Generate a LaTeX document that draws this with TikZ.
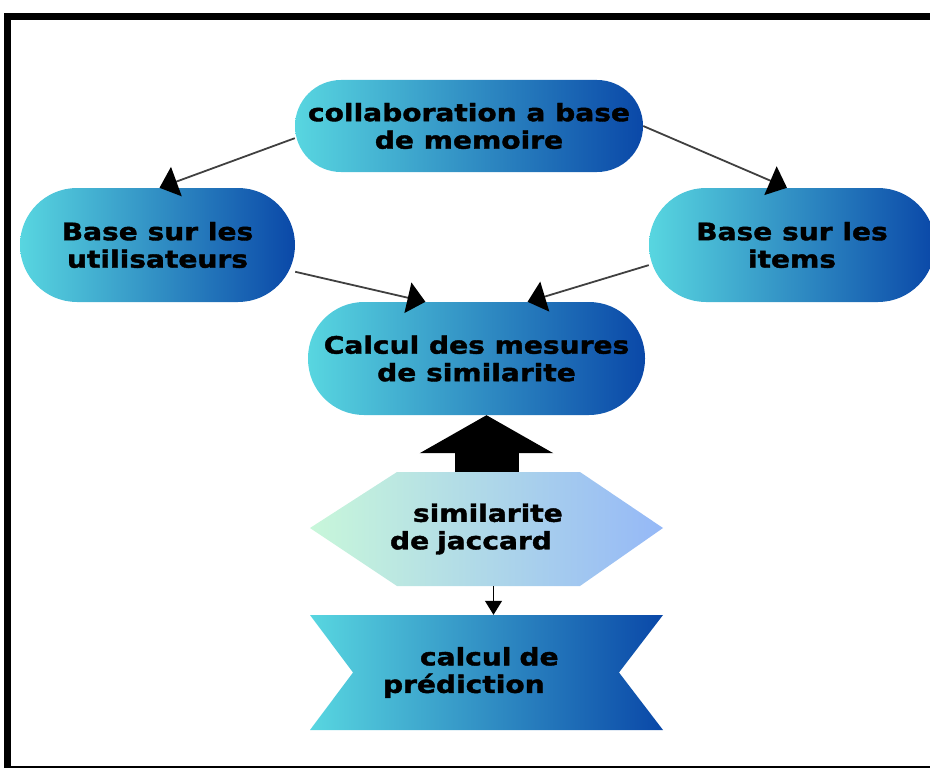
\documentclass[tikz,border=0pt]{standalone}
\usepackage{fontspec}
\setmainfont{DejaVu Sans}[BoldFeatures={FakeStretch=1.17,FakeBold=1.6}]
\usetikzlibrary{arrows.meta}
\definecolor{cyanL}{HTML}{58D6E0}
\definecolor{blueR}{HTML}{0A48A8}
\definecolor{mintL}{HTML}{C8F7DA}
\definecolor{skyR}{HTML}{95B8F7}
\definecolor{linkgray}{HTML}{404040}
\tikzset{
  pill/.style={rectangle, rounded corners=#1, left color=cyanL, right color=blueR,
    inner sep=0pt, align=center, font=\bfseries\fontsize{24}{27.5}\selectfont},
  plain/.style={rectangle, inner sep=0pt, font=\bfseries\fontsize{24}{27.5}\selectfont},
  link/.style={draw=linkgray, line width=1.8pt, -{Triangle[length=18pt,width=31pt,black]}},
}
\begin{document}
\begin{tikzpicture}[x=1pt,y=-1pt]
\useasboundingbox (0,0) rectangle (930,768);
\clip (0,0) rectangle (930,768);
% outer frame
\draw[line width=7pt] (7.5,17) rectangle (945,769);

% hexagon and ribbon outlines
\shade[left color=mintL, right color=skyR]
  (310,528) -- (397,472) -- (580,472) -- (663,528) -- (580,586) -- (397,586) -- cycle;
\shade[left color=cyanL, right color=blueR]
  (310,615) -- (663,615) -- (619,672.5) -- (663,730) -- (310,730) -- (353,672.5) -- cycle;

% rounded boxes
\node[pill=46pt, minimum width=348pt, minimum height=92pt] (top) at (469,126)
  {collaboration a base\\de memoire};
\node[pill=57pt, minimum width=275pt, minimum height=114pt] (ul) at (157.5,245)
  {Base sur les\\utilisateurs};
\node[pill=57pt, minimum width=286pt, minimum height=114pt] (ur) at (792,245)
  {Base sur les\\items};
\node[pill=56pt, minimum width=337pt, minimum height=113pt] (mid) at (476.5,358.5)
  {Calcul des mesures\\de similarite};

% text boxes over the hexagon and ribbon
\node[plain, minimum width=353pt, minimum height=114pt, text width=353pt, align=left] (hex) at (486.5,529)
  {\hspace*{103pt}similarite\\\hspace*{80pt}de jaccard};
\node[plain, minimum width=353pt, minimum height=115pt, text width=353pt, align=left] (pred) at (486.5,672.5)
  {\hspace*{110pt}calcul de\\\hspace*{73pt}prédiction};

% connectors
\draw[link] (top.184) -- (ul.88);
\draw[link] (top.east) -- (ur.95);
\draw[link] (ul.-11) -- (mid.132);
\draw[link] (ur.188) -- (mid.48);
\draw[line width=64pt, -{Triangle[length=38pt,width=132pt]}]
  (hex.north) -- (hex.north |- mid.south);
\draw[line width=1.2pt, -{Triangle[length=14pt,width=17pt]}]
  ([xshift=7pt]hex.south) -- ([xshift=7pt]pred.north);
\end{tikzpicture}
\end{document}
